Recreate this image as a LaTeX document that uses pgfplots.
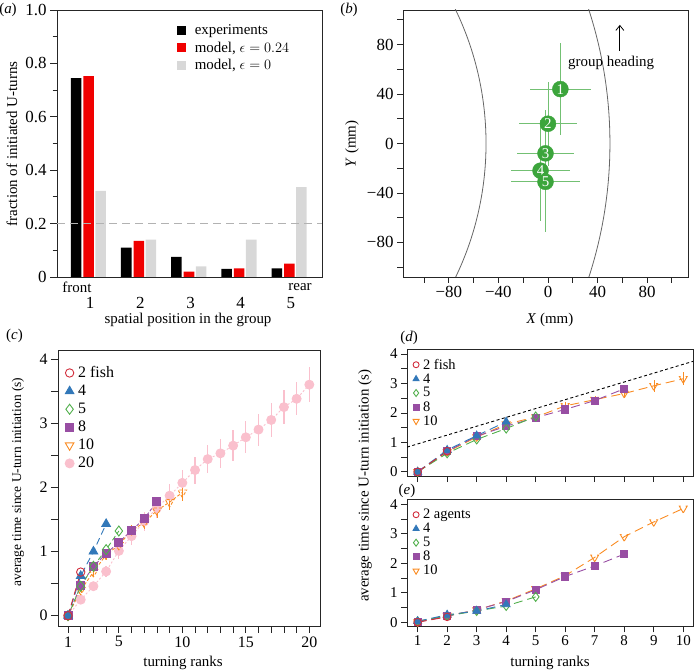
\documentclass[border=0pt]{standalone}
\usepackage{fontspec}
\setmainfont{Liberation Serif}
\usepackage{pgfplots}
\usepackage{pgfplotstable}
\pgfplotsset{compat=1.18}
\usetikzlibrary{arrows.meta}

\definecolor{cred}{RGB}{210,45,60}
\definecolor{cblue}{RGB}{50,120,185}
\definecolor{cgreen}{RGB}{80,175,75}
\definecolor{cpurple}{RGB}{152,78,163}
\definecolor{corange}{RGB}{250,140,35}
\definecolor{cpink}{RGB}{250,192,205}
\definecolor{bgreen}{RGB}{60,165,60}
\definecolor{egreen}{RGB}{115,192,115}
\definecolor{barred}{RGB}{240,0,0}
\definecolor{bargrey}{RGB}{216,216,216}

\newcommand\fa{\fontsize{17}{19}\selectfont}
\newcommand\fb{\fontsize{16}{18}\selectfont}
\newcommand\fc{\fontsize{15}{17}\selectfont}
\newcommand\fd{\fontsize{13.5}{15}\selectfont}
\newcommand\fe{\fontsize{14.5}{16}\selectfont}

\pgfplotstableread{
pos exp modA modB
1 0.745 0.752 0.323
2 0.110 0.135 0.140
3 0.075 0.020 0.040
4 0.030 0.032 0.140
5 0.032 0.050 0.337
}\tabA

\pgfplotstableread{
x y ex ey lab
10 44 24.5 37 1
0 16 23.5 34 2
-2 -8 23 35 3
-6 -22 24 41 4
-2 -31 28 41 5
}\tabB

\pgfplotsset{
  panel/.style={
    scale only axis, anchor=north west,
    axis line style={black!85, line width=0.8bp},
    tick style={black!85, line width=0.8bp},
    tick align=outside, tick pos=left,
    /pgf/number format/assume math mode=true,
    major tick length=7bp, minor tick length=4.5bp,
  },
  lg/.style={legend cell align=left,
    legend style={draw=none, fill=none, anchor=north west, row sep=0bp, column sep=2bp}},
}

\begin{document}
\begin{tikzpicture}
\useasboundingbox (0,0) rectangle (694bp,672bp);

% ---------- (a)
\begin{axis}[panel, lg, at={(57bp,662bp)}, width=265bp, height=267bp,
  xmin=0.34, xmax=5.62, ymin=0, ymax=1,
  xtick={1,2,3,4,5}, xtick style={draw=none},
  xticklabel style={font=\fa, yshift=-12bp, inner sep=1bp},
  ytick={0,0.2,0.4,0.6,0.8,1}, yticklabels={0,0.2,0.4,0.6,0.8,1.0},
  minor ytick={0.1,0.3,0.5,0.7,0.9},
  yticklabel style={font=\fa},
  ybar, bar width=0.21,
  legend style={at={(0.44,0.96)}, font=\fc, row sep=1.5bp, column sep=7bp},
  legend image code/.code={\fill[#1] (0bp,-4.5bp) rectangle (9bp,4.5bp);},
]
\addplot[fill=black, draw=none, bar shift=-0.28] table[x=pos, y=exp] {\tabA};
\addlegendentry{experiments}
\addplot[fill=barred, draw=none, bar shift=-0.03] table[x=pos, y=modA] {\tabA};
\addlegendentry{model, $\epsilon = 0.24$}
\addplot[fill=bargrey, draw=none, bar shift=0.21] table[x=pos, y=modB] {\tabA};
\addlegendentry{model, $\epsilon = 0$}
\addplot[sharp plot, forget plot, black!30, dash pattern=on 8bp off 5bp, line width=1.5bp]
  coordinates {(0.34,0.2) (5.62,0.2)};
\end{axis}

% ---------- (b)
\begin{axis}[panel, at={(403bp,662bp)}, width=285bp, height=267bp,
  xmin=-117, xmax=113, ymin=-108, ymax=108,
  major tick length=6bp, minor tick length=6bp,
  xtick={-80,-40,0,40,80}, xticklabels={−80,−40,0,40,80},
  minor xtick={-100,-60,-20,20,60,100},
  ytick={-80,-40,0,40,80}, yticklabels={−80,−40,0,40,80},
  minor ytick={-100,-60,-20,20,60,100},
  tick label style={font=\fa},
]
\draw[black!60, line width=0.8bp] (axis cs:-300,0) circle[radius=250];
\draw[black!60, line width=0.8bp] (axis cs:-300,0) circle[radius=350];
\draw[-{Straight Barb[length=5bp,width=8bp]}, line width=0.8bp] (axis cs:58,75) -- (axis cs:58,96);
\node[font=\fc] at (axis cs:51,65) {group heading};
\addplot[egreen, only marks, mark=none,
  error bars/.cd, x dir=both, x explicit, y dir=both, y explicit,
  error mark=none, error bar style={line width=0.9bp}]
  table[x=x, y=y, x error=ex, y error=ey] {\tabB};
\addplot[only marks, mark=*, mark size=8bp, bgreen,
  nodes near coords, point meta=explicit symbolic,
  nodes near coords style={font=\fc, text=white, anchor=center, inner sep=0pt}]
  table[x=x, y=y, meta=lab] {\tabB};
\end{axis}

% ---------- (c)
\begin{axis}[panel, lg, at={(58bp,322bp)}, width=262bp, height=276bp,
  xmin=0.21, xmax=20.84, ymin=-0.16, ymax=4.14,
  major tick length=7bp, minor tick length=7bp,
  xtick={1,5,10,15,20}, minor xtick={2,3,4,6,7,8,9,11,12,13,14,16,17,18,19},
  ytick={0,1,2,3,4}, minor ytick={0.5,1.5,2.5,3.5},
  tick label style={font=\fb},
  legend style={at={(0.015,0.955)}, font=\fb, row sep=2bp},
  every axis plot/.append style={line width=0.9bp, mark options={solid}},
]
\addplot[cpink, dash pattern=on 2bp off 2bp, mark=*, mark size=4.5bp, forget plot,
  error bars/.cd, y dir=both, y explicit, error mark=none,
  error bar style={line width=1.3bp, solid}]
  coordinates {(1,0) +- (0,0) (2,0.25) +- (0,0.04) (3,0.46) +- (0,0.06) (4,0.69) +- (0,0.09)
   (5,1.01) +- (0,0.12) (6,1.24) +- (0,0.14) (7,1.47) +- (0,0.15) (8,1.68) +- (0,0.16)
   (9,1.87) +- (0,0.18) (10,2.07) +- (0,0.20) (11,2.27) +- (0,0.21) (12,2.44) +- (0,0.22)
   (13,2.53) +- (0,0.23) (14,2.65) +- (0,0.24) (15,2.78) +- (0,0.25) (16,2.90) +- (0,0.25)
   (17,3.05) +- (0,0.26) (18,3.25) +- (0,0.26) (19,3.38) +- (0,0.26) (20,3.60) +- (0,0.27)};
\addplot[corange, dash pattern=on 3bp off 2bp, mark=triangle, mark size=5bp,
  mark options={rotate=180}, forget plot,
  error bars/.cd, y dir=both, y explicit, error mark=none, error bar style={solid}]
  coordinates {(1,0) +- (0,0.02) (2,0.40) +- (0,0.05) (3,0.68) +- (0,0.06) (4,0.95) +- (0,0.07)
   (5,1.10) +- (0,0.08) (6,1.33) +- (0,0.09) (7,1.45) +- (0,0.10) (8,1.64) +- (0,0.11)
   (9,1.77) +- (0,0.12) (10,1.92) +- (0,0.13)};
\addplot[cpurple, dash pattern=on 3bp off 2bp, mark=square*, mark size=4bp, forget plot]
  coordinates {(1,0) (2,0.47) (3,0.77) (4,0.97) (5,1.14) (6,1.33) (7,1.51) (8,1.78)};
\addplot[cgreen, dash pattern=on 5bp off 3bp, mark=diamond, mark size=5bp, forget plot]
  coordinates {(1,0) (2,0.46) (3,0.77) (4,1.03) (5,1.32)};
\addplot[cblue, dash pattern=on 7bp off 4bp, mark=triangle*, mark size=5bp, forget plot]
  coordinates {(1,0) (2,0.62) (3,1.00) (4,1.43)};
\addplot[cred, dash pattern=on 7bp off 4bp, mark=o, mark size=4.2bp, forget plot]
  coordinates {(1,0) (2,0.68)};
\addlegendimage{only marks, cred, mark=o, mark size=4.2bp, line width=0.9bp}
\addlegendentry{2 fish}
\addlegendimage{only marks, cblue, mark=triangle*, mark size=5bp}
\addlegendentry{4}
\addlegendimage{only marks, cgreen, mark=diamond, mark size=5bp, line width=0.9bp}
\addlegendentry{5}
\addlegendimage{only marks, cpurple, mark=square*, mark size=4bp}
\addlegendentry{8}
\addlegendimage{only marks, corange, mark=triangle, mark size=5bp, mark options={rotate=180}, line width=0.9bp}
\addlegendentry{10}
\addlegendimage{only marks, cpink, mark=*, mark size=4.5bp}
\addlegendentry{20}
\end{axis}

% ---------- (d)
\begin{axis}[panel, lg, at={(407bp,323bp)}, width=286bp, height=127bp,
  xmin=0.64, xmax=10.33, ymin=-0.14, ymax=4.17,
  xtick={1,2,3,4,5,6,7,8,9,10}, xticklabels={},
  ytick={0,1,2,3,4}, minor ytick={0.5,1.5,2.5,3.5},
  major tick length=6bp, minor tick length=6bp,
  tick label style={font=\fc},
  legend style={at={(0.01,0.955)}, font=\fe, row sep=-1bp},
  every axis plot/.append style={line width=0.9bp, mark options={solid}},
]
\addplot[black, dash pattern=on 3bp off 2.5bp, forget plot] coordinates {(0.64,0.84) (10.33,3.75)};
\addplot[corange, dash pattern=on 9bp off 5bp, mark=triangle, mark size=4.5bp,
  mark options={rotate=180}, forget plot,
  error bars/.cd, y dir=both, y explicit, error mark=none, error bar style={solid}]
  coordinates {(1,0) +- (0,0.03) (2,0.68) +- (0,0.06) (3,1.18) +- (0,0.08) (4,1.62) +- (0,0.10)
   (5,1.86) +- (0,0.10) (6,2.24) +- (0,0.12) (7,2.45) +- (0,0.14) (8,2.66) +- (0,0.16)
   (9,2.92) +- (0,0.20) (10,3.16) +- (0,0.22)};
\addplot[cpurple, dash pattern=on 9bp off 5bp, mark=square*, mark size=3.6bp, forget plot]
  coordinates {(1,0) (2,0.70) (3,1.21) (4,1.55) (5,1.84) (6,2.12) (7,2.42) (8,2.82)};
\addplot[cgreen, dash pattern=on 9bp off 5bp, mark=diamond, mark size=4.5bp, forget plot]
  coordinates {(1,0) (2,0.63) (3,1.10) (4,1.47) (5,1.88)};
\addplot[cblue, dash pattern=on 9bp off 5bp, mark=triangle*, mark size=4.5bp, forget plot]
  coordinates {(1,0) (2,0.74) (3,1.23) (4,1.70)};
\addplot[cred, dash pattern=on 9bp off 5bp, mark=o, mark size=3.8bp, forget plot]
  coordinates {(1,0) (2,0.70)};
\addlegendimage{only marks, cred, mark=o, mark size=3bp, line width=0.9bp}
\addlegendentry{2 fish}
\addlegendimage{only marks, cblue, mark=triangle*, mark size=3.5bp}
\addlegendentry{4}
\addlegendimage{only marks, cgreen, mark=diamond, mark size=3.5bp, line width=0.9bp}
\addlegendentry{5}
\addlegendimage{only marks, cpurple, mark=square*, mark size=3bp}
\addlegendentry{8}
\addlegendimage{only marks, corange, mark=triangle, mark size=3.5bp, mark options={rotate=180}, line width=0.9bp}
\addlegendentry{10}
\end{axis}

% ---------- (e)
\begin{axis}[panel, lg, at={(407bp,172.7bp)}, width=286bp, height=127bp,
  xmin=0.64, xmax=10.33, ymin=-0.14, ymax=4.17,
  xtick={1,2,3,4,5,6,7,8,9,10},
  ytick={0,1,2,3,4}, minor ytick={0.5,1.5,2.5,3.5},
  major tick length=6bp, minor tick length=6bp,
  tick label style={font=\fc},
  legend style={at={(0.01,0.955)}, font=\fe, row sep=-1bp},
  every axis plot/.append style={line width=0.9bp, mark options={solid}},
]
\addplot[corange, dash pattern=on 9bp off 5bp, mark=triangle, mark size=4.5bp,
  mark options={rotate=180}, forget plot]
  coordinates {(1,0) (2,0.22) (3,0.41) (4,0.72) (5,1.13) (6,1.58) (7,2.20) (8,2.90) (9,3.40) (10,3.86)};
\addplot[cpurple, dash pattern=on 9bp off 5bp, mark=square*, mark size=3.6bp, forget plot]
  coordinates {(1,0) (2,0.20) (3,0.42) (4,0.70) (5,1.10) (6,1.55) (7,1.91) (8,2.31)};
\addplot[cgreen, dash pattern=on 9bp off 5bp, mark=diamond, mark size=4.5bp, forget plot]
  coordinates {(1,0.03) (2,0.22) (3,0.38) (4,0.55) (5,0.86)};
\addplot[cblue, dash pattern=on 9bp off 5bp, mark=triangle*, mark size=4.5bp, forget plot]
  coordinates {(1,0.03) (2,0.25) (3,0.38) (4,0.60)};
\addplot[cred, dash pattern=on 9bp off 5bp, mark=o, mark size=3.8bp, forget plot]
  coordinates {(1,0) (2,0.18)};
\addlegendimage{only marks, cred, mark=o, mark size=3bp, line width=0.9bp}
\addlegendentry{2 agents}
\addlegendimage{only marks, cblue, mark=triangle*, mark size=3.5bp}
\addlegendentry{4}
\addlegendimage{only marks, cgreen, mark=diamond, mark size=3.5bp, line width=0.9bp}
\addlegendentry{5}
\addlegendimage{only marks, cpurple, mark=square*, mark size=3bp}
\addlegendentry{8}
\addlegendimage{only marks, corange, mark=triangle, mark size=3.5bp, mark options={rotate=180}, line width=0.9bp}
\addlegendentry{10}
\end{axis}

% ---------- labels
\begin{scope}[every node/.style={inner sep=0.5bp}]
\node[font=\fc] at (77bp,385bp) {front};
\node[font=\fc] at (300bp,385bp) {rear};
\node[font=\fc, rotate=90] at (12bp,528bp) {fraction of initiated U-turns};
\node[font=\fc] at (188bp,352bp) {spatial position in the group};
\node[font=\fc, rotate=90] at (352bp,528bp) {\textit{Y} (mm)};
\node[font=\fc] at (550bp,352bp) {\textit{X} (mm)};
\node[font=\fd, rotate=90] at (18bp,190bp) {average time since U-turn initiation (s)};
\node[font=\fc] at (183bp,9bp) {turning ranks};
\node[font=\fc, rotate=90] at (365bp,186bp) {average time since U-turn initiation (s)};
\node[font=\fc] at (550bp,9bp) {turning ranks};
\node[font=\fc] at (8bp,662bp) {(\textit{a})};
\node[font=\fc] at (349bp,662bp) {(\textit{b})};
\node[font=\fc] at (14.5bp,336bp) {(\textit{c})};
\node[font=\fc] at (409bp,334bp) {(\textit{d})};
\node[font=\fc] at (407bp,181bp) {(\textit{e})};
\end{scope}
\end{tikzpicture}
\end{document}
